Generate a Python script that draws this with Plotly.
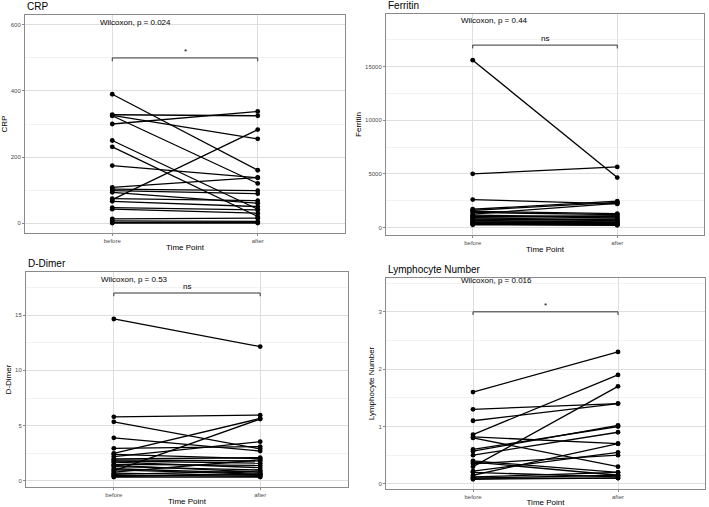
import plotly.graph_objects as go

# ---------------- data ----------------
time_points = ["before", "after"]

crp_before = [390, 328, 326, 325, 300, 250, 231, 174, 108, 103, 98, 93, 74, 71, 66, 47, 42, 13, 7, 2, 0]
crp_after = [160, 325, 255, 120, 338, 42, 20, 137, 138, 98, 89, 60, 68, 283, 50, 40, 30, 15, 5, 2, 0]

ferritin_before = [15600, 5000, 2600, 1700, 1600, 1500, 1400, 1250, 1150, 1050, 950, 900, 800, 700, 650, 600, 500, 450, 400, 350, 300, 250]
ferritin_after = [4650, 5650, 2200, 2450, 2350, 1300, 1200, 2250, 1000, 900, 1100, 700, 650, 800, 500, 600, 450, 400, 350, 300, 250, 200]

ddimer_before = [14.65, 5.8, 5.35, 3.9, 2.95, 2.5, 2.4, 2.2, 2.0, 1.9, 1.8, 1.7, 1.5, 1.4, 1.3, 1.1, 1.0, 0.9, 0.8, 0.7, 0.6, 0.5, 0.4, 0.35]
ddimer_after = [12.15, 5.95, 2.9, 2.7, 3.1, 5.65, 2.0, 3.55, 2.1, 1.8, 1.6, 1.2, 1.4, 0.8, 1.0, 0.7, 0.6, 5.6, 1.9, 0.5, 0.9, 0.4, 0.6, 0.35]

lymph_before = [1.6, 1.3, 1.1, 0.86, 0.82, 0.8, 0.6, 0.57, 0.5, 0.4, 0.38, 0.35, 0.3, 0.22, 0.2, 0.15, 0.12, 0.1, 0.1, 0.08]
lymph_after = [2.3, 1.4, 1.4, 1.9, 0.7, 0.3, 1.0, 1.02, 0.9, 0.2, 0.15, 0.5, 1.7, 0.55, 0.12, 0.7, 0.2, 0.1, 0.15, 0.1]

panel_titles = ["CRP", "Ferritin", "D-Dimer", "Lymphocyte Number"]
p_labels = ["Wilcoxon, p = 0.024", "Wilcoxon, p = 0.44", "Wilcoxon, p = 0.53", "Wilcoxon, p = 0.016"]
sig_labels = ["*", "ns", "ns", "*"]
sig_y = [500, 17000, 17, 3]
p_label_y = [606, 19250, 18.2, 3.54]
y_ticks = [[0, 200, 400, 600], [0, 5000, 10000, 15000], [0, 5, 10, 15], [0, 1, 2, 3]]
y_ticktext = [["0", "200", "400", "600"], ["0", "5000", "10000", "15000"], ["0", "5", "10", "15"], ["0", "1", "2", "3"]]

befores = [crp_before, ferritin_before, ddimer_before, lymph_before]
afters = [crp_after, ferritin_after, ddimer_after, lymph_after]

# ---------------- layout geometry ----------------
W, H = 709, 507
y_ranges = [[-30, 630], [-700, 19900], [-0.55, 18.9], [-0.09, 3.59]]
panels_px = [  # left, right, top, bottom in px
    (25, 345, 15, 233),
    (386, 704, 14, 235),
    (26, 348, 272, 487),
    (386, 705, 278, 489),
]

FONT = "Liberation Sans, Arial, sans-serif"
GRID = "#dedede"
BORDER = "#8a8a8a"

fig = go.Figure()
layout = dict(
    width=W, height=H, margin=dict(l=0, r=0, t=0, b=0, autoexpand=False),
    paper_bgcolor="white", plot_bgcolor="white", showlegend=False,
    font=dict(family=FONT, color="black"),
)
annotations = []

for i in range(4):
    l, r, t, b = panels_px[i]
    xa = "xaxis" if i == 0 else f"xaxis{i+1}"
    ya = "yaxis" if i == 0 else f"yaxis{i+1}"
    xr = "x" if i == 0 else f"x{i+1}"
    yr = "y" if i == 0 else f"y{i+1}"

    for bv, av in zip(befores[i], afters[i]):
        fig.add_trace(go.Scatter(
            x=time_points, y=[bv, av], mode="lines+markers",
            line=dict(color="black", width=1.3),
            marker=dict(color="black", size=4.8),
            xaxis=xr, yaxis=yr, hoverinfo="skip",
        ))

    span = y_ranges[i][1] - y_ranges[i][0]
    tip = 0.015 * span
    fig.add_trace(go.Scatter(
        x=[time_points[0], time_points[0], time_points[1], time_points[1]],
        y=[sig_y[i] - tip, sig_y[i], sig_y[i], sig_y[i] - tip],
        mode="lines", line=dict(color="#333333", width=1),
        xaxis=xr, yaxis=yr, hoverinfo="skip",
    ))

    dt = y_ticks[i][1] - y_ticks[i][0]
    layout[xa] = dict(
        domain=[l / W, r / W], anchor=yr, type="category",
        categoryorder="array", categoryarray=time_points,
        range=[-0.6, 1.6], showgrid=True, gridcolor=GRID, gridwidth=1,
        showline=True, mirror=True, linecolor=BORDER, linewidth=1,
        ticks="outside", ticklen=2, tickcolor=BORDER,
        tickfont=dict(size=6, color="#4d4d4d", family=FONT),
        title=dict(text="Time Point", font=dict(size=8, family=FONT), standoff=1),
        zeroline=False, fixedrange=True, automargin=False,
    )
    layout[ya] = dict(
        domain=[1 - b / H, 1 - t / H], anchor=xr, range=y_ranges[i],
        tickmode="array", tickvals=y_ticks[i], ticktext=y_ticktext[i],
        showgrid=True, gridcolor=GRID, gridwidth=1,
        minor=dict(showgrid=True, gridcolor="#eaeaea", gridwidth=0.6, dtick=dt / 2, tick0=0, ticks=""),
        showline=True, mirror=True, linecolor=BORDER, linewidth=1,
        ticks="outside", ticklen=2, tickcolor=BORDER,
        tickfont=dict(size=6, color="#4d4d4d", family=FONT),
        title=dict(text=panel_titles[i], font=dict(size=8, family=FONT), standoff=2),
        zeroline=False, fixedrange=True, automargin=False,
    )

    annotations.append(dict(
        text=panel_titles[i], xref=f"{xr} domain", yref=f"{yr} domain",
        x=0, y=1, xanchor="left", yanchor="bottom", yshift=1, showarrow=False,
        font=dict(size=10, family=FONT, color="black"),
    ))
    annotations.append(dict(
        text=p_labels[i], xref=f"{xr} domain", yref=yr,
        x=0.228, y=p_label_y[i], xanchor="left", yanchor="middle", showarrow=False,
        font=dict(size=8, family=FONT, color="black"),
    ))
    annotations.append(dict(
        text=sig_labels[i], xref=f"{xr} domain", yref=yr,
        x=0.5, y=sig_y[i], xanchor="center", yanchor="bottom", yshift=0, showarrow=False,
        font=dict(size=8, family=FONT, color="black"),
    ))

layout["annotations"] = annotations
fig.update_layout(**layout)
fig.write_html(
    "out.html",
    config={"displayModeBar": False, "staticPlot": True},
    post_script="document.body.style.margin='0';document.body.style.padding='0';document.body.style.overflow='hidden';",
)
